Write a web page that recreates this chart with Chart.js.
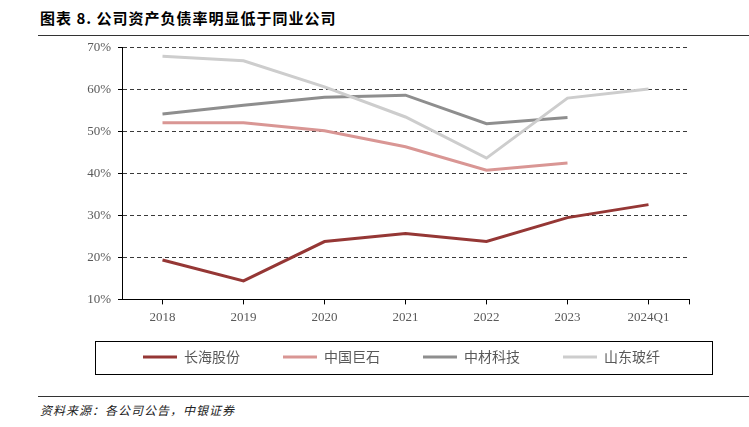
<!DOCTYPE html>
<html>
<head>
<meta charset="utf-8">
<script src="https://cdn.jsdelivr.net/npm/chart.js@4.4.1/dist/chart.umd.min.js"></script>
<style>
  html, body { margin: 0; padding: 0; background: #fff; }
  body { width: 749px; height: 427px; position: relative; overflow: hidden; }
  #title { position: absolute; left: 40px; top: 8px; font-family: "Noto Sans CJK SC", sans-serif; font-weight: 700; font-size: 15px; letter-spacing: 1px; color: #000; line-height: 20px; white-space: nowrap; }
  #tline { position: absolute; left: 38px; right: 0; top: 35px; height: 0; border-top: 1.5px solid #333; }
  #sline { position: absolute; left: 38px; right: 0; top: 396px; height: 0; border-top: 1.5px solid #333; }
  #source { position: absolute; left: 40px; top: 402px; font-family: "Noto Sans CJK SC", sans-serif; font-style: italic; font-size: 12px; letter-spacing: 1px; color: #222; line-height: 16px; white-space: nowrap; }
  #wrap { position: absolute; left: 0; top: 33px; width: 749px; height: 374px; }
</style>
</head>
<body>
<div id="title">图表 8. 公司资产负债率明显低于同业公司</div>
<div id="tline"></div>
<div id="sline"></div>
<div id="source">资料来源：各公司公告，中银证券</div>
<div id="wrap"><canvas id="c"></canvas></div>
<script>
const categories = ['2018', '2019', '2020', '2021', '2022', '2023', '2024Q1'];
const seriesNames = ['长海股份', '中国巨石', '中材科技', '山东玻纤'];
const changhai = [19.4, 14.4, 23.8, 25.7, 23.8, 29.5, 32.6];
const jushi = [52.1, 52.1, 50.2, 46.4, 40.8, 42.5, null];
const zhongcai = [54.2, 56.3, 58.2, 58.7, 51.9, 53.4, null];
const shandong = [68.0, 66.9, 60.7, 53.5, 43.7, 58.0, 60.2];
const seriesColors = ['#953735', '#D99694', '#8E8E8E', '#CDCDCD'];
const yTicks = [10, 20, 30, 40, 50, 60, 70];

const allSeries = [changhai, jushi, zhongcai, shandong];

const LEGEND_PAD = 43;
const legendTweak = {
  id: 'legendTweak',
  afterLayout(chart) {
    const lg = chart.legend;
    const ca = chart.chartArea;
    if (!lg) return;
    const totalW = lg.lineWidths ? lg.lineWidths[0] : 0;
    const startNow = (lg.left + LEGEND_PAD + lg.right - totalW) / 2;
    const dx = (ca.left + 21) - startNow;
    const centerNow = lg.top + LEGEND_PAD + 7;
    const dy = (ca.bottom + 57.5) - centerNow;
    lg.left += dx; lg.right += dx;
    lg.top += dy; lg.bottom += dy;
  },
  afterDraw(chart) {
    const ctx = chart.ctx;
    const ca = chart.chartArea;
    const lg = chart.legend;
    ctx.save();
    ctx.strokeStyle = '#000';
    ctx.lineWidth = 1;
    ctx.beginPath();
    ctx.moveTo(Math.round(ca.right) + 0.5, ca.bottom);
    ctx.lineTo(Math.round(ca.right) + 0.5, ca.bottom + 5);
    ctx.stroke();
    if (lg) {
      const cy = lg.top + LEGEND_PAD + 7;
      ctx.strokeRect(Math.round(ca.left - 27) + 0.5, Math.round(cy - 16) + 0.5, Math.round(ca.right - ca.left + 50), 33);
    }
    ctx.restore();
  }
};

new Chart(document.getElementById('c'), {
  type: 'line',
  data: {
    labels: categories,
    datasets: seriesNames.map((n, i) => ({
      label: n,
      data: allSeries[i],
      borderColor: seriesColors[i],
      backgroundColor: seriesColors[i],
      borderWidth: 3,
      pointRadius: 0,
      pointHoverRadius: 0,
      tension: 0,
      spanGaps: false,
      order: 4 - i
    }))
  },
  options: {
    responsive: true,
    maintainAspectRatio: false,
    animation: false,
    layout: { padding: { left: 0, right: 60, top: 8, bottom: 10 } },
    scales: {
      x: {
        type: 'category',
        offset: true,
        grid: { display: true, drawOnChartArea: false, drawTicks: true, tickLength: 5, tickColor: '#000', offset: false },
        border: { display: true, color: '#000', width: 1 },
        ticks: { color: '#595959', padding: 5, font: { family: '"Liberation Serif", serif', size: 13 }, maxRotation: 0, autoSkip: false }
      },
      y: {
        min: 10,
        max: 70,
        afterFit(scale) { scale.width = 122; },
        afterBuildTicks(scale) { scale.ticks = yTicks.map(v => ({ value: v })); },
        grid: {
          color: (c) => (c.tick && c.tick.value === 10 ? 'rgba(0,0,0,0)' : '#3a3a3a'),
          lineWidth: 1,
          drawTicks: true,
          tickLength: 4,
          tickColor: '#000',
          tickBorderDash: []
        },
        border: { display: true, color: '#000', width: 1, dash: [4, 3] },
        ticks: { color: '#595959', padding: 7, font: { family: '"Liberation Serif", serif', size: 13 }, callback: (v) => v + '%' }
      }
    },
    plugins: {
      title: { display: false },
      tooltip: { enabled: false },
      legend: {
        display: true,
        position: 'bottom',
        labels: {
          boxWidth: 34,
          boxHeight: 3,
          padding: LEGEND_PAD,
          color: '#595959',
          font: { family: '"Noto Sans CJK SC", sans-serif', size: 14 },
          generateLabels(chart) {
            return chart.data.datasets.map((ds, i) => ({
              text: ds.label,
              fillStyle: ds.borderColor,
              strokeStyle: ds.borderColor,
              lineWidth: 0,
              hidden: false,
              datasetIndex: i,
              fontColor: '#595959'
            }));
          }
        }
      }
    }
  },
  plugins: [legendTweak]
});
</script>
</body>
</html>
